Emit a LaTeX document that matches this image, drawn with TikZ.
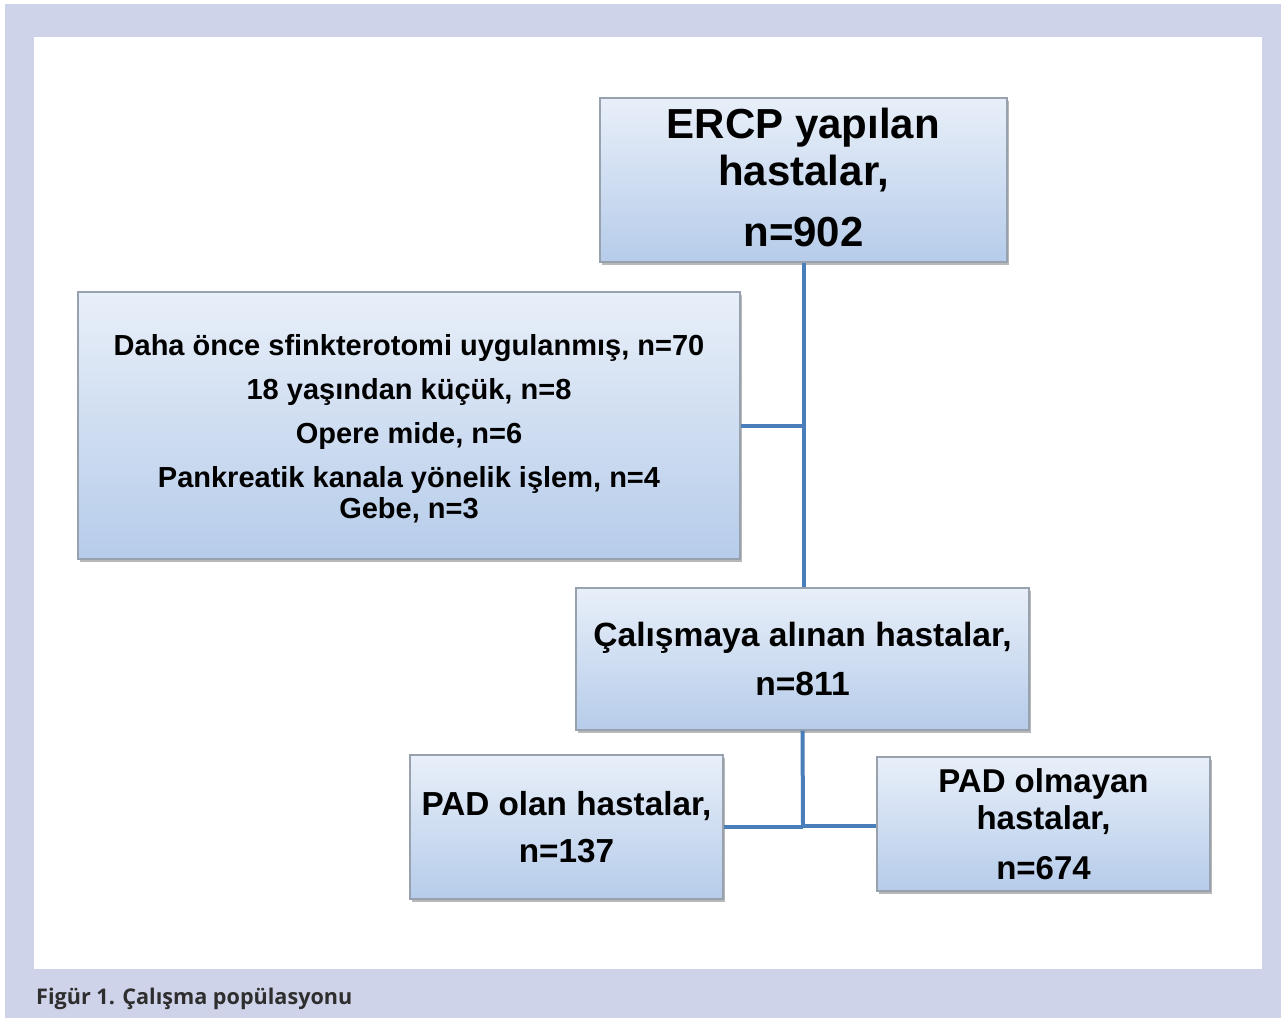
\documentclass[tikz,border=0pt]{standalone}
\usepackage{fontspec}
\setmainfont{Liberation Sans}
\newfontfamily\capfont{Open Sans}
\usetikzlibrary{shadows}
\definecolor{frame}{HTML}{CFD3E9}
\definecolor{boxtop}{HTML}{E8EFF9}
\definecolor{boxbot}{HTML}{B6CCEA}
\definecolor{boxline}{HTML}{98A2AE}
\definecolor{conn}{HTML}{4A7EBB}
\definecolor{captxt}{HTML}{2E2E2E}
\tikzset{
  flowbox/.style={rectangle, draw=boxline, line width=1.2pt, top color=boxtop, bottom color=boxbot,
    inner sep=0pt, align=center, text=black,
    drop shadow={shadow xshift=2pt, shadow yshift=-3pt, fill=black, opacity=0.28}},
  conline/.style={draw=conn, line width=4pt}
}
\begin{document}
\begin{tikzpicture}[x=1pt,y=-1pt]
\useasboundingbox (0,0) rectangle (1281,1018);
\fill[white] (0,0) rectangle (1281,1018);
\fill[frame] (5,4) rectangle (1281,1018);
\fill[white] (33.5,37) rectangle (1262,969);

\node[flowbox, minimum width=407pt, minimum height=164pt,
  font=\fontsize{42}{47}\bfseries\selectfont] (ercp) at (803.5,180)
  {ERCP yapılan\\hastalar,\\[14pt]n=902\rule[-5pt]{0pt}{0pt}};

\node[flowbox, minimum width=662pt, minimum height=267pt,
  font=\fontsize{29}{44}\bfseries\selectfont] (excl) at (409,425.5)
  {\rule{0pt}{27pt}Daha önce sfinkterotomi uygulanmış, n=70\\18 yaşından küçük, n=8\\Opere mide, n=6\\Pankreatik kanala yönelik işlem, n=4\\[-13pt]Gebe, n=3};

\node[flowbox, minimum width=453pt, minimum height=142pt,
  font=\fontsize{33.6}{49}\bfseries\selectfont] (study) at (802.5,659)
  {Çalışmaya alınan hastalar,\\n=811};

\node[flowbox, minimum width=313pt, minimum height=144pt,
  font=\fontsize{33.3}{47}\bfseries\selectfont] (padyes) at (566.5,827)
  {PAD olan hastalar,\\n=137};

\node[flowbox, minimum width=333pt, minimum height=134pt,
  font=\fontsize{33}{37}\bfseries\selectfont] (padno) at (1043.5,824)
  {PAD olmayan\\hastalar,\\[13pt]n=674};

\coordinate (split) at (803,825.5);
\draw[conline] (ercp.south) -- (ercp.south |- study.north);
\draw[conline] (excl.east) -- (excl.east -| ercp.south);
\draw[conline] (study.south) -- (split);
\draw[conline] (padyes.east) -- (padyes.east -| split);
\draw[conline] (split) -- (split -| padno.west);

\node[anchor=base west, inner sep=0pt, text=captxt,
  font=\capfont\fontsize{21.6}{25}\bfseries\selectfont] (caption) at (36,1004)
  {Figür 1. Çalışma popülasyonu};
\end{tikzpicture}
\end{document}
